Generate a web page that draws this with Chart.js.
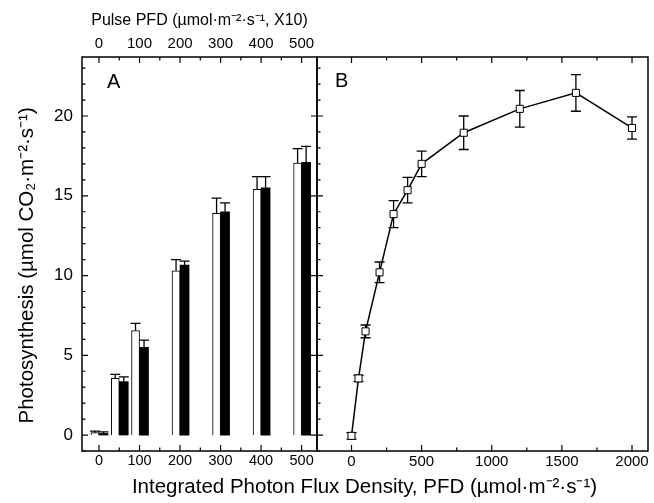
<!DOCTYPE html>
<html><head><meta charset="utf-8">
<script src="https://cdn.jsdelivr.net/npm/chart.js@4.4.1/dist/chart.umd.min.js"></script>
<style>
html,body{margin:0;padding:0;background:#fff;}
#wrap{position:relative;width:654px;height:503px;overflow:hidden;background:#fff;}
#a{position:absolute;left:0;top:0;}
#b{position:absolute;left:76px;top:0;}
</style></head><body>
<div id="wrap">
<canvas id="a" width="330" height="503"></canvas>
<canvas id="b" width="578" height="503"></canvas>
</div>
<script>
// ---- data ----
const pulseLevels = [0, 50, 100, 200, 300, 400, 500];
const openBars  = [0.15, 3.55, 6.55, 10.3, 13.9, 15.4, 17.05];
const openErr   = [0.1, 0.25, 0.45, 0.7, 0.95, 0.8, 0.9];
const solidBars = [0.1, 3.35, 5.5, 10.65, 14.0, 15.5, 17.1];
const solidErr  = [0.1, 0.3, 0.45, 0.25, 0.55, 0.7, 1.0];

const pfdLevels = [0, 50, 100, 200, 300, 400, 500, 800, 1200, 1600, 2000];
const pfdPhoto  = [-0.05, 3.55, 6.5, 10.2, 13.85, 15.35, 17.0, 18.95, 20.45, 21.45, 19.25];
const pfdErr    = [0.2, 0.2, 0.4, 0.65, 0.85, 0.8, 0.8, 1.05, 1.15, 1.15, 0.7];

const yTickLabels = [0, 5, 10, 15, 20];
const pulseTickLabels = [0, 100, 200, 300, 400, 500];
const pfdTickLabels = [0, 500, 1000, 1500, 2000];

const yTitle = 'Photosynthesis (\u00B5mol CO\u2082\u00B7m\u207B\u00B2\u00B7s\u207B\u00B9)    ';
const topTitle = 'Pulse PFD (\u00B5mol\u00B7m\u207B\u00B2\u00B7s\u207B\u00B9, X10)';
const xTitle = 'Integrated Photon Flux Density, PFD (\u00B5mol\u00B7m\u207B\u00B2\u00B7s\u207B\u00B9)';

const FF = "'Liberation Sans', Arial, Helvetica, sans-serif";
Chart.defaults.font.family = FF;
Chart.defaults.color = '#000';

function ticksFrom(arr){ return s => { s.ticks = arr.map(v => ({value: v})); }; }
const plainLabel = v => String(v);

function hTicks(ctx, scale, y, from, to, step, majorEvery, dir){
  ctx.beginPath();
  for (let v = from; v <= to + 1e-9; v += step){
    const x = scale.getPixelForValue(v);
    const major = Math.abs(v / majorEvery - Math.round(v / majorEvery)) < 1e-6;
    const len = major ? 6 : 3.5;
    ctx.moveTo(x, y); ctx.lineTo(x, y + dir * len);
  }
  ctx.stroke();
}
function vTicks(ctx, scale, x, from, to, step, majorEvery, dir, majorOnly){
  ctx.beginPath();
  for (let v = from; v <= to + 1e-9; v += step){
    const y = scale.getPixelForValue(v);
    const major = Math.abs(v / majorEvery - Math.round(v / majorEvery)) < 1e-6;
    if (majorOnly && !major) continue;
    const len = major ? 6 : 3.5;
    ctx.moveTo(x, y); ctx.lineTo(x + dir * len, y);
  }
  ctx.stroke();
}

const panelA = {
  id: 'panelA',
  afterDatasetsDraw(chart){
    const {ctx, scales} = chart;
    const ys = scales.y;
    ctx.save();
    ctx.strokeStyle = '#000'; ctx.lineWidth = 1.3;
    chart.data.datasets.forEach((ds, di) => {
      const meta = chart.getDatasetMeta(di);
      meta.data.forEach((bar, i) => {
        const top = ys.getPixelForValue(ds.data[i].y + ds.errs[i]);
        ctx.beginPath();
        ctx.moveTo(bar.x, bar.y); ctx.lineTo(bar.x, top);
        ctx.moveTo(bar.x - 5, top); ctx.lineTo(bar.x + 5, top);
        ctx.stroke();
      });
    });
    ctx.restore();
  },
  afterDraw(chart){
    const {ctx, chartArea: a, scales} = chart;
    ctx.save();
    ctx.strokeStyle = '#000'; ctx.lineWidth = 1.5;
    ctx.strokeRect(a.left, a.top, a.right - a.left, a.bottom - a.top);
    ctx.lineWidth = 1.2;
    hTicks(ctx, scales.x, a.bottom, 0, 500, 50, 100, -1);
    hTicks(ctx, scales.x, a.top, 0, 500, 50, 100, 1);
    vTicks(ctx, scales.y, a.left, -1, 23, 1, 5, 1, false);
    vTicks(ctx, scales.y, a.right, -1, 23, 1, 5, -1, true);
    ctx.fillStyle = '#000';
    ctx.font = '20px ' + FF;
    ctx.textBaseline = 'alphabetic';
    ctx.fillText('A', 107, 88);
    ctx.restore();
  }
};

const panelB = {
  id: 'panelB',
  beforeDatasetsDraw(chart){
    const {ctx, scales} = chart;
    const ys = scales.y;
    const ds = chart.data.datasets[0];
    const meta = chart.getDatasetMeta(0);
    ctx.save();
    ctx.strokeStyle = '#000'; ctx.lineWidth = 1.3;
    meta.data.forEach((pt, i) => {
      const v = ds.data[i].y, e = ds.errs[i];
      const t = ys.getPixelForValue(v + e), b = ys.getPixelForValue(v - e);
      ctx.beginPath();
      ctx.moveTo(pt.x, t); ctx.lineTo(pt.x, b);
      ctx.moveTo(pt.x - 5, t); ctx.lineTo(pt.x + 5, t);
      ctx.moveTo(pt.x - 5, b); ctx.lineTo(pt.x + 5, b);
      ctx.stroke();
    });
    ctx.restore();
  },
  afterDraw(chart){
    const {ctx, chartArea: a, scales} = chart;
    ctx.save();
    ctx.strokeStyle = '#000'; ctx.lineWidth = 1.5;
    ctx.strokeRect(a.left, a.top, a.right - a.left, a.bottom - a.top);
    ctx.lineWidth = 1.2;
    hTicks(ctx, scales.x, a.bottom, 0, 2000, 250, 500, -1);
    hTicks(ctx, scales.x, a.top, 0, 2000, 250, 500, 1);
    vTicks(ctx, scales.y, a.left, -1, 23, 1, 5, 1, false);
    ctx.fillStyle = '#000';
    ctx.font = '20px ' + FF;
    ctx.fillText('B', a.left + 18, 87);
    ctx.restore();
  }
};

const hiddenGrid = {display: false, drawTicks: false, offset: false};

new Chart(document.getElementById('a'), {
  type: 'bar',
  data: {
    datasets: [
      {label: 'open', data: pulseLevels.map((x, i) => ({x, y: openBars[i]})), errs: openErr,
       backgroundColor: '#fff', borderColor: '#000', borderWidth: 1, barThickness: 8},
      {label: 'solid', data: pulseLevels.map((x, i) => ({x, y: solidBars[i]})), errs: solidErr,
       backgroundColor: '#000', borderColor: '#000', borderWidth: 0, barThickness: 9}
    ]
  },
  options: {
    responsive: false, animation: false, events: [],
    layout: {padding: {left: 0, right: 13, top: 0, bottom: 0}},
    plugins: {legend: {display: false}, tooltip: {enabled: false}},
    scales: {
      x: {type: 'linear', position: 'bottom', min: -42, max: 538, offset: false,
          grid: hiddenGrid, border: {display: false},
          afterBuildTicks: ticksFrom(pulseTickLabels),
          afterFit: s => { s.height = 52; },
          ticks: {padding: 1.5, font: {size: 14.5}, maxRotation: 0, autoSkip: false, callback: plainLabel}},
      xTop: {type: 'linear', position: 'top', min: -42, max: 538, offset: false,
          grid: hiddenGrid, border: {display: false},
          afterBuildTicks: ticksFrom(pulseTickLabels),
          afterFit: s => { s.height = 57; },
          ticks: {padding: 4, font: {size: 15}, maxRotation: 0, autoSkip: false, callback: plainLabel},
          title: {display: true, text: topTitle, font: {size: 16}, padding: {top: 10.5, bottom: 0}}},
      y: {type: 'linear', position: 'left', min: -1, max: 23.7,
          grid: hiddenGrid, border: {display: false},
          afterBuildTicks: ticksFrom(yTickLabels),
          afterFit: s => { s.width = 82; },
          ticks: {padding: 9, font: {size: 17}, callback: plainLabel},
          title: {display: true, text: yTitle, font: {size: 20.5}, padding: {top: 15, bottom: 0}}}
    }
  },
  plugins: [panelA]
});

new Chart(document.getElementById('b'), {
  type: 'line',
  data: {
    datasets: [{
      data: pfdLevels.map((x, i) => ({x, y: pfdPhoto[i]})), errs: pfdErr,
      borderColor: '#000', borderWidth: 1.5, tension: 0, fill: false,
      pointStyle: 'rect', pointRadius: 5, pointBackgroundColor: '#fff',
      pointBorderColor: '#000', pointBorderWidth: 1
    }]
  },
  options: {
    responsive: false, animation: false, events: [],
    layout: {padding: {left: 0, right: 1, top: 0, bottom: 0}},
    plugins: {
      legend: {display: false}, tooltip: {enabled: false},
      title: {display: true, position: 'bottom', text: xTitle, color: '#000',
              font: {size: 20.5, weight: 'normal'}, padding: {top: 0, bottom: 3}}
    },
    scales: {
      x: {type: 'linear', position: 'bottom', min: -246, max: 2114,
          grid: hiddenGrid, border: {display: false},
          afterBuildTicks: ticksFrom(pfdTickLabels),
          afterFit: s => { s.height = 24.4; },
          ticks: {padding: 2, font: {size: 15}, maxRotation: 0, autoSkip: false, callback: plainLabel}},
      xTop: {type: 'linear', position: 'top', min: -246, max: 2114,
          grid: hiddenGrid, border: {display: false},
          ticks: {display: false},
          afterFit: s => { s.height = 57; }},
      y: {type: 'linear', position: 'left', min: -1, max: 23.7,
          grid: hiddenGrid, border: {display: false},
          ticks: {display: false},
          afterFit: s => { s.width = 241; }}
    }
  },
  plugins: [panelB]
});
</script>
</body></html>
